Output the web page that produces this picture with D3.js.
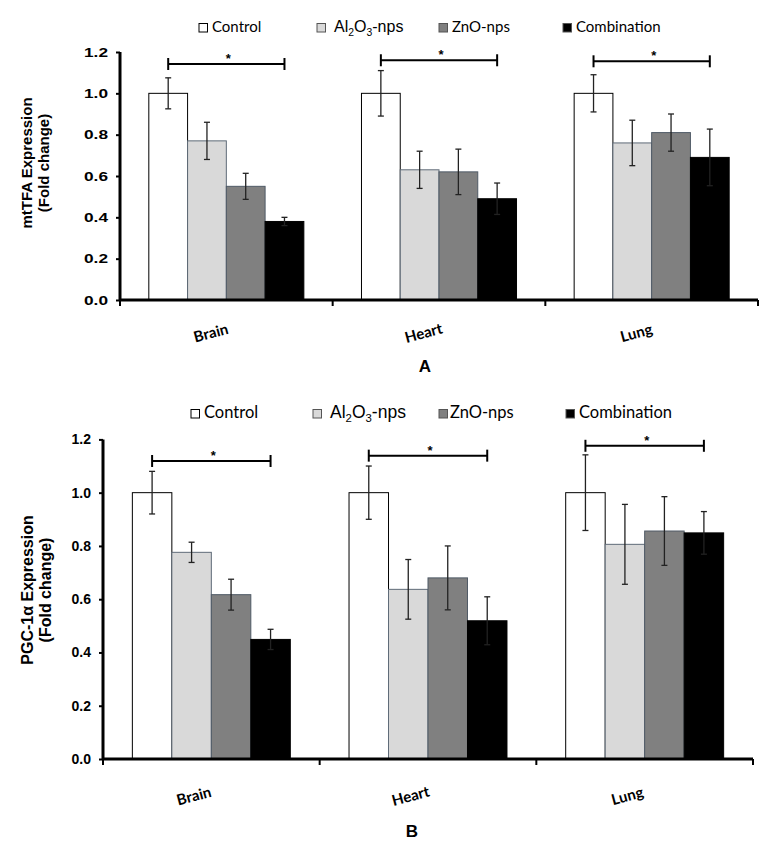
<!DOCTYPE html>
<html><head><meta charset="utf-8">
<script src="https://cdn.jsdelivr.net/npm/d3@7"></script>
<style>body{margin:0;background:#fff}svg{display:block}</style>
</head><body>
<svg id="chart" width="774" height="852"></svg>
<script>
const categories = ["Brain", "Heart", "Lung"];
const seriesNames = ["Control", "Al2O3-nps", "ZnO-nps", "Combination"];
const yTickValues = [0, 0.2, 0.4, 0.6, 0.8, 1.0, 1.2];

// Panel A: mtTFA
const mtTFA_control = [1.00, 1.00, 1.00];
const mtTFA_al2o3   = [0.77, 0.63, 0.76];
const mtTFA_zno     = [0.55, 0.62, 0.81];
const mtTFA_comb    = [0.38, 0.49, 0.69];
const mtTFA_control_err = [0.075, 0.11, 0.09];
const mtTFA_al2o3_err   = [0.09, 0.09, 0.11];
const mtTFA_zno_err     = [0.063, 0.11, 0.09];
const mtTFA_comb_err    = [0.02, 0.076, 0.137];
const mtTFA_bracket = [1.142, 1.16, 1.155];

// Panel B: PGC-1α
const pgc_control = [1.00, 1.00, 1.00];
const pgc_al2o3   = [0.776, 0.637, 0.806];
const pgc_zno     = [0.617, 0.68, 0.856];
const pgc_comb    = [0.449, 0.519, 0.849];
const pgc_control_err = [0.08, 0.10, 0.142];
const pgc_al2o3_err   = [0.038, 0.112, 0.15];
const pgc_zno_err     = [0.058, 0.12, 0.129];
const pgc_comb_err    = [0.038, 0.09, 0.08];
const pgc_bracket = [1.119, 1.139, 1.176];

const fills = ["#ffffff", "#d9d9d9", "#808080", "#000000"];
const strokes = ["#000000", "#5f6b78", "#4f5a66", "#000000"];

const svg = d3.select("#chart");

function drawPanel(o) {
  const g = svg.append("g");
  const x0 = d3.scaleBand().domain(categories).range([o.xl, o.xr]).padding(0);
  const bw = x0.bandwidth();
  const groupFrac = 0.729;
  const x1 = d3.scaleBand().domain(seriesNames)
    .range([bw * (1 - groupFrac) / 2, bw * (1 + groupFrac) / 2]).padding(0);
  const y = d3.scaleLinear().domain([0, 1.2]).range([o.yb, o.yt]);

  const vals = [o.control, o.al2o3, o.zno, o.comb];
  const errs = [o.controlErr, o.al2o3Err, o.znoErr, o.combErr];
  const data = [];
  categories.forEach((c, ci) => seriesNames.forEach((s, si) => {
    data.push({c, s, si, v: vals[si][ci], e: errs[si][ci]});
  }));

  // bars
  g.selectAll("rect.bar").data(data).enter().append("rect")
    .attr("x", d => x0(d.c) + x1(d.s))
    .attr("y", d => y(d.v))
    .attr("width", x1.bandwidth())
    .attr("height", d => y(0) - y(d.v))
    .attr("fill", d => fills[d.si])
    .attr("stroke", d => strokes[d.si])
    .attr("stroke-width", 1);

  // error bars
  const cap = 3;
  data.forEach(d => {
    const cx = x0(d.c) + x1(d.s) + x1.bandwidth() / 2;
    const col = "#222";
    g.append("line").attr("x1", cx).attr("x2", cx)
      .attr("y1", y(d.v + d.e)).attr("y2", y(d.v - d.e))
      .attr("stroke", col).attr("stroke-width", 1.3);
    [d.v + d.e, d.v - d.e].forEach(t => g.append("line")
      .attr("x1", cx - cap).attr("x2", cx + cap)
      .attr("y1", y(t)).attr("y2", y(t))
      .attr("stroke", col).attr("stroke-width", 1.3));
  });

  // significance brackets
  categories.forEach((c, ci) => {
    const xa = x0(c) + x1("Control") + x1.bandwidth() / 2;
    const xb = x0(c) + x1("Combination") + x1.bandwidth() / 2;
    const yy = y(o.bracket[ci]);
    g.append("line").attr("x1", xa).attr("x2", xb).attr("y1", yy).attr("y2", yy)
      .attr("stroke", "#000").attr("stroke-width", 2);
    [xa, xb].forEach(xx => g.append("line").attr("x1", xx).attr("x2", xx)
      .attr("y1", yy - 6).attr("y2", yy + 6).attr("stroke", "#000").attr("stroke-width", 2));
    g.append("text").attr("x", (xa + xb) / 2 + 2).attr("y", yy - 1)
      .attr("text-anchor", "middle").attr("font-family", "Liberation Sans")
      .attr("font-weight", "bold").attr("font-size", 13).text("*");
  });

  // y axis
  const yAxis = d3.axisLeft(y).tickValues(yTickValues).tickSize(4)
    .tickFormat(d3.format(".1f")).tickPadding(o.tickPad);
  const ya = g.append("g").attr("transform", `translate(${o.xl},0)`).call(yAxis);
  ya.select(".domain").attr("stroke-width", 3).attr("d", `M-0,${o.yb}V${o.yt}`);
  ya.selectAll(".tick line").attr("stroke-width", 2);
  ya.selectAll(".tick text").attr("font-family", "Liberation Sans")
    .attr("font-weight", "bold").attr("font-size", o.tickFont)
    .attr("fill", "#000");
  if (o.tickLen) ya.selectAll(".tick text").attr("textLength", o.tickLen)
    .attr("lengthAdjust", "spacingAndGlyphs");

  // x axis (ticks at category boundaries)
  g.append("line").attr("x1", o.xl - 1).attr("x2", o.xr).attr("y1", o.yb).attr("y2", o.yb)
    .attr("stroke", "#000").attr("stroke-width", 3);
  const bounds = categories.map(c => x0(c)).concat([x0(categories[2]) + bw]);
  bounds.forEach(b => g.append("line").attr("x1", b).attr("x2", b)
    .attr("y1", o.yb).attr("y2", o.yb + 6).attr("stroke", "#000").attr("stroke-width", 2));

  // category labels
  categories.forEach(c => {
    const cx = x0(c) + bw / 2 + o.labelDx;
    g.append("text").attr("transform", `translate(${cx},${o.labelY}) rotate(-15)`)
      .attr("text-anchor", "middle").attr("font-family", "Lato")
      .attr("font-weight", "bold").attr("font-size", 15).text(c);
  });

  // y title
  const tt = g.append("text").attr("transform", `translate(${o.titleX},${o.titleY}) rotate(-90)`)
    .attr("text-anchor", "middle").attr("font-family", "Liberation Sans")
    .attr("font-weight", "bold").attr("font-size", o.titleFont);
  tt.append("tspan").attr("x", 0).attr("dy", 0).text(o.title1);
  tt.append("tspan").attr("x", 0).attr("dy", o.titleFont * 1.12).text("(Fold change)");

  // panel letter
  g.append("text").attr("x", o.letterX).attr("y", o.letterY).attr("text-anchor", "middle")
    .attr("font-family", "Liberation Sans").attr("font-weight", "bold")
    .attr("font-size", 17).text(o.letter);

  // legend
  const lg = g.append("g");
  o.legend.forEach((L, i) => {
    lg.append("rect").attr("x", L.bx).attr("y", o.legendY - 8.5).attr("width", 8.5).attr("height", 8.5)
      .attr("fill", fills[i]).attr("stroke", i === 0 ? "#000" : "#555").attr("stroke-width", 1);
    const t = lg.append("text").attr("x", L.tx).attr("y", o.legendY).attr("fill", "#000");
    if (i === 1) {
      t.attr("font-family", "Liberation Sans").attr("font-size", o.alFont);
      t.append("tspan").text("Al");
      t.append("tspan").attr("font-size", o.alFont * 0.65).attr("dy", 4).text("2");
      t.append("tspan").attr("dy", -4).text("O");
      t.append("tspan").attr("font-size", o.alFont * 0.65).attr("dy", 4).text("3");
      t.append("tspan").attr("dy", -4).text("-nps");
    } else {
      t.attr("font-family", "Lato").attr("font-size", o.legFont).text(seriesNames[i]);
    }
  });
}

drawPanel({
  xl: 120, xr: 758, yb: 300, yt: 52,
  control: mtTFA_control, al2o3: mtTFA_al2o3, zno: mtTFA_zno, comb: mtTFA_comb,
  controlErr: mtTFA_control_err, al2o3Err: mtTFA_al2o3_err, znoErr: mtTFA_zno_err, combErr: mtTFA_comb_err,
  bracket: mtTFA_bracket,
  tickFont: 13, tickPad: 8, tickLen: 24,
  labelY: 338, labelDx: -14,
  title1: "mtTFA Expression", titleX: 32, titleY: 163, titleFont: 15,
  letter: "A", letterX: 425, letterY: 372,
  legendY: 32, legFont: 15, alFont: 16,
  legend: [{bx: 199, tx: 212}, {bx: 317, tx: 334}, {bx: 439, tx: 452}, {bx: 563, tx: 576}]
});

drawPanel({
  xl: 103, xr: 753, yb: 759, yt: 439.4,
  control: pgc_control, al2o3: pgc_al2o3, zno: pgc_zno, comb: pgc_comb,
  controlErr: pgc_control_err, al2o3Err: pgc_al2o3_err, znoErr: pgc_zno_err, combErr: pgc_comb_err,
  bracket: pgc_bracket,
  tickFont: 14, tickPad: 8, tickLen: null,
  labelY: 801, labelDx: -16,
  title1: "PGC-1α Expression", titleX: 33, titleY: 590, titleFont: 16,
  letter: "B", letterX: 412, letterY: 837,
  legendY: 418, legFont: 16.5, alFont: 17.5,
  legend: [{bx: 191, tx: 204}, {bx: 313, tx: 330}, {bx: 439, tx: 450}, {bx: 566, tx: 579}]
});
</script>
</body></html>
